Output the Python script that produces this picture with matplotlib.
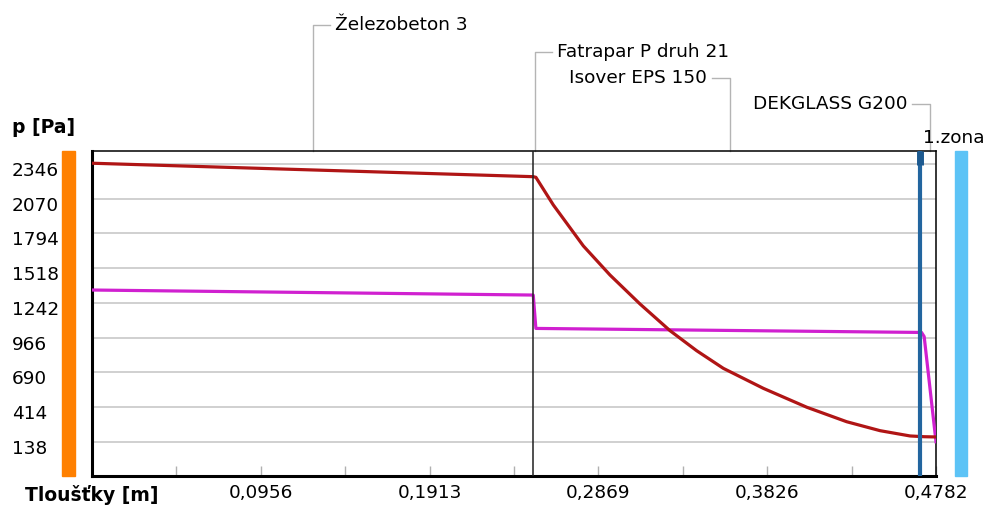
import matplotlib
matplotlib.use("Agg")
import matplotlib.pyplot as plt
from matplotlib.patches import Rectangle
from matplotlib.transforms import ScaledTranslation

# layer boundaries [m] and names
bounds = [0.0, 0.25, 0.2515, 0.4715, 0.4782]
layers = ["Železobeton 3", "Fatrapar P druh 21", "Isover EPS 150", "DEKGLASS G200"]
zone_x = 0.4691

# saturated vapour pressure (red)
x_sat = [0, 0.25, 0.2515, 0.2614, 0.2784, 0.2935, 0.3105, 0.3275, 0.3426, 0.3577,
         0.3804, 0.4050, 0.4276, 0.4465, 0.4635, 0.4715, 0.4782]
p_sat = [2352, 2245, 2240, 2020, 1695, 1464, 1234, 1022, 863, 723,
         564, 414, 299, 228, 186, 180, 178]

# partial vapour pressure (magenta)
x_p = [0, 0.25, 0.2515, 0.4700, 0.4715, 0.4782]
p_p = [1345, 1305, 1040, 1008, 975, 140]

yticks = [138, 414, 690, 966, 1242, 1518, 1794, 2070, 2346]
xticks = [0.04782 * i for i in range(1, 11)]
xlabels = ["", "0,0956", "", "0,1913", "", "0,2869", "", "0,3826", "", "0,4782"]

plt.rcParams["font.family"] = "DejaVu Sans"
fig = plt.figure(figsize=(9.87, 5.09), dpi=100)
W, H = 987.0, 509.0
L, R, T, B = 92, 936, 151, 476
ax = fig.add_axes([L / W, 1 - B / H, (R - L) / W, (B - T) / H])

ax.set_xlim(0, 0.4782)
ax.set_ylim(-132, 2449)

for v in yticks:
    ax.axhline(v, color="#c8c8c8", lw=1.2, zorder=1)

ax.plot(x_p, p_p, color="#d020d0", lw=2.3, zorder=3)
ax.plot(x_sat, p_sat, color="#b01515", lw=2.3, zorder=4)

ax.axvline(bounds[1], color="#202020", lw=1.1, zorder=5)
ax.axvline(zone_x, color="#22659f", lw=3.0, zorder=6)
ax.plot([zone_x, zone_x], [0.957, 1.0], color="#1d5a90", lw=5,
        transform=ax.get_xaxis_transform(), solid_capstyle="butt", zorder=7, clip_on=False)

for s in ["left", "bottom"]:
    ax.spines[s].set_linewidth(2.2)
for s in ["top", "right"]:
    ax.spines[s].set_linewidth(1.1)

fs = 13.3
ax.set_yticks(yticks)
ax.set_yticklabels([str(v) for v in yticks], fontsize=fs, ha="left")
ax.tick_params(axis="y", length=0, pad=57.6)
off = ScaledTranslation(0, -5 / 100, fig.dpi_scale_trans)
for lab in ax.get_yticklabels():
    lab.set_transform(lab.get_transform() + off)

ax.set_xticks(xticks)
ax.set_xticklabels(xlabels, fontsize=fs)
ax.tick_params(axis="x", direction="in", length=7, width=1, color="#b0b0b0", pad=6)

# side bars
fig.patches.append(Rectangle((62 / W, 1 - B / H), 13 / W, (B - T) / H,
                             transform=fig.transFigure, color="#ff8000"))
fig.patches.append(Rectangle((955 / W, 1 - B / H), 12 / W, (B - T) / H,
                             transform=fig.transFigure, color="#5cc3f6"))

fig.text(12 / W, 1 - 127 / H, "p [Pa]", fontsize=13.5, fontweight="bold", va="center")
fig.text(25 / W, 1 - 495 / H, "Tloušťky [m]", fontsize=13.5, fontweight="bold", va="center")

# layer labels with leader lines
px = 0.4782 / (R - L)
rows = [1.388, 1.305, 1.225, 1.145]
sides = ["r", "r", "l", "l"]
tr = ax.get_xaxis_transform()
for i, name in enumerate(layers):
    xm = (bounds[i] + bounds[i + 1]) / 2
    yr = rows[i]
    if sides[i] == "r":
        xs = [xm, xm, xm + 17 * px]
        ax.text(xm + 22 * px, yr, name, transform=tr, fontsize=fs, va="center", ha="left")
    else:
        xs = [xm, xm, xm - 18 * px]
        ax.text(xm - 23 * px, yr, name, transform=tr, fontsize=fs, va="center", ha="right")
    ax.plot(xs, [1.0, yr, yr], color="#b4b4b4", lw=1, transform=tr, clip_on=False)

fig.text(923 / W, 1 - 138 / H, "1.zona", fontsize=fs, va="center")

fig.savefig("out.png", dpi=100)
